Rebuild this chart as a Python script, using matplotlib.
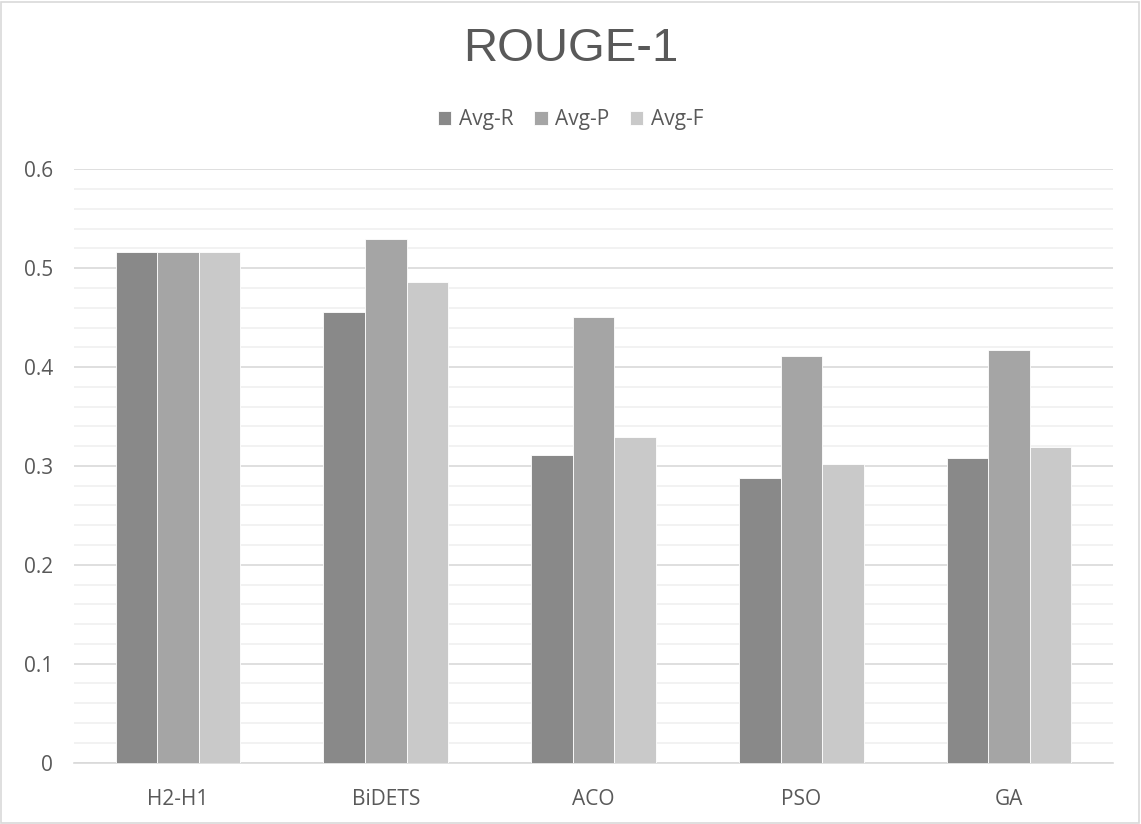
import matplotlib
matplotlib.use("Agg")
import matplotlib.pyplot as plt
import numpy as np
from matplotlib.patches import Rectangle

categories = ["H2-H1", "BiDETS", "ACO", "PSO", "GA"]
series_names = ["Avg-R", "Avg-P", "Avg-F"]
avg_r = [0.516, 0.456, 0.311, 0.288, 0.308]
avg_p = [0.516, 0.530, 0.451, 0.411, 0.417]
avg_f = [0.516, 0.486, 0.329, 0.302, 0.319]
colors = ["#898989", "#a5a5a5", "#c9c9c9"]
y_ticks = [0, 0.1, 0.2, 0.3, 0.4, 0.5, 0.6]

plt.rcParams["font.family"] = ["Open Sans", "DejaVu Sans"]

fig = plt.figure(figsize=(11.41, 8.24), dpi=100)
fig.patches.append(Rectangle((0.001, 0.001), 0.997, 0.997, transform=fig.transFigure,
                             fill=False, edgecolor="#d9d9d9", linewidth=1.2))
ax = fig.add_axes([0.0649, 0.0746, 0.9106, 0.7199])

x = np.arange(len(categories))
bw = 0.2
for i, (vals, name) in enumerate(zip([avg_r, avg_p, avg_f], series_names)):
    ax.bar(x + (i - 1) * bw, vals, width=bw, color=colors[i], label=name,
           edgecolor="white", linewidth=0.6, zorder=3)

ax.set_xlim(-0.5, len(categories) - 0.5)
ax.set_ylim(0, 0.6)
ax.set_yticks(y_ticks)
ax.set_yticklabels([f"{t:g}" for t in y_ticks])
ax.set_yticks(np.arange(0, 0.6001, 0.02), minor=True)
ax.grid(axis="y", which="major", color="#d9d9d9", linewidth=1.2, zorder=0)
ax.grid(axis="y", which="minor", color="#f0f0f0", linewidth=1.2, zorder=0)
ax.set_xticks(x)
ax.set_xticklabels(categories)
ax.tick_params(axis="both", which="both", length=0, colors="#595959", labelsize=15)
ax.tick_params(axis="x", pad=19)
ax.tick_params(axis="y", pad=15)
for s in ["top", "right", "left"]:
    ax.spines[s].set_visible(False)
ax.spines["bottom"].set_color("#d9d9d9")
ax.spines["bottom"].set_linewidth(1.2)
ax.set_axisbelow(True)

fig.text(0.5, 0.941, "ROUGE-1", ha="center", va="center", fontsize=34,
         color="#595959", family=["Liberation Sans", "DejaVu Sans"])
fig.legend(loc="center", bbox_to_anchor=(0.5, 0.855), ncol=3, frameon=False,
           fontsize=15, handlelength=0.65, handleheight=0.65, handletextpad=0.35,
           columnspacing=1.0, labelcolor="#595959")

fig.savefig("out.png", dpi=100)
